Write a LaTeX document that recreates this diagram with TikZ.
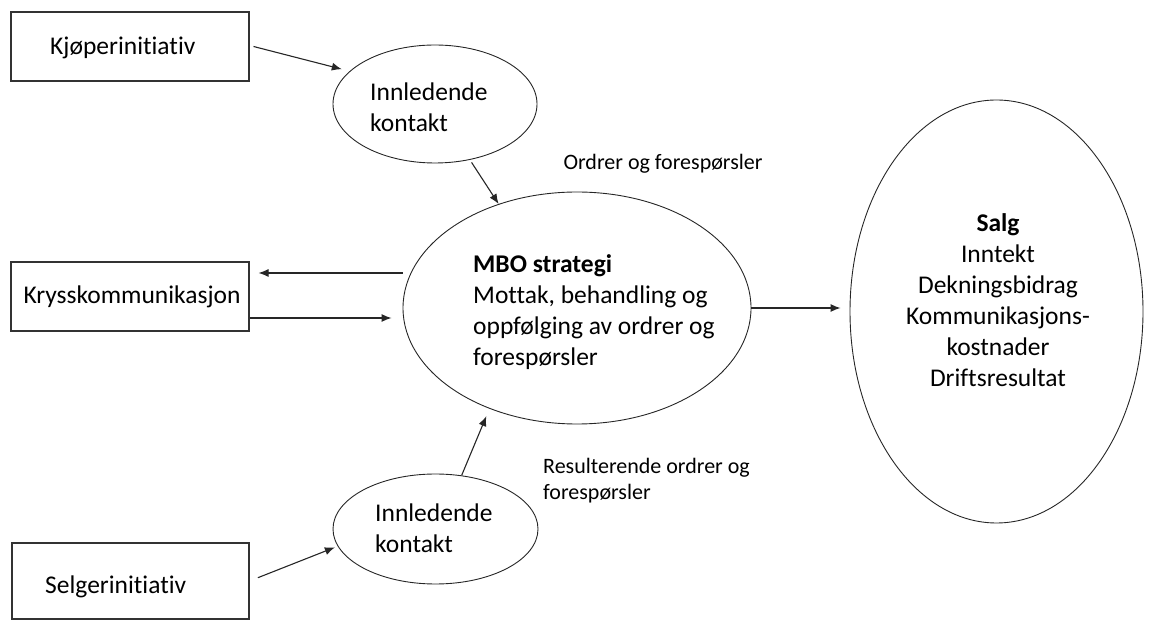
\documentclass[tikz,border=0pt]{standalone}
\usepackage{fontspec}
\setmainfont{Carlito}[Ligatures={NoCommon,NoContextual}]
\usetikzlibrary{shapes.geometric,arrows.meta}

\begin{document}
\begin{tikzpicture}[x=1pt,y=1pt,
  box/.style={draw=black!80, line width=1.1pt, rectangle, inner sep=0pt},
  oval/.style={draw=black!85, line width=0.9pt, ellipse, inner sep=0pt},
  txt/.style={inner sep=0pt, font=\fontsize{25.5}{31}\selectfont, align=left},
  lbl/.style={inner sep=0pt, font=\fontsize{22}{26}\selectfont, align=left},
  arr/.style={draw=black!85, line width=1.1pt, -{Latex[length=10pt,width=8pt]}}]

\useasboundingbox (0,0) rectangle (1167,621);

% left-hand boxes
\node[box, minimum width=238, minimum height=69] (k1box) at (130,574.5) {};
\node[txt, anchor=west] (k1) at (50,573) {Kjøperinitiativ};

\node[box, minimum width=238, minimum height=69] (kkbox) at (130,324.5) {};
\node[txt] (kk) at (132,324) {Krysskommunikasjon};

\node[box, minimum width=237, minimum height=76] (sbox) at (130.5,40) {};
\node[txt, anchor=west] (s) at (45,34) {Selgerinitiativ};

% first contact ellipses
\node[oval, minimum width=204, minimum height=118] (ik1) at (435,517) {};
\node[txt, anchor=west] (ik1t) at (370,513.5) {Innledende\\kontakt};

\node[oval, minimum width=205, minimum height=110] (ik2) at (435.5,92) {};
\node[txt, anchor=west] (ik2t) at (375,93) {Innledende\\kontakt};

% central process
\node[oval, minimum width=348, minimum height=232] (mbo) at (577,313) {};
\node[txt, anchor=west] (mbot) at (473,309)
  {\textbf{MBO strategi}\\Mottak, behandling og\\oppfølging av ordrer og\\forespørsler};

% result
\node[oval, minimum width=293, minimum height=423] (salg) at (996.5,309.5) {};
\node[txt, align=center] (salgt) at (998,321)
  {\textbf{Salg}\\Inntekt\\Dekningsbidrag\\Kommunikasjons-\\kostnader\\Driftsresultat};

% flow labels
\node[lbl] (l1) at (663,457) {Ordrer og forespørsler};
\node[lbl, anchor=west] (l2) at (543,140) {Resulterende ordrer og\\forespørsler};

% connectors
\draw[arr, shorten >=8pt] ([xshift=4]k1box.east) -- (ik1.159);
\draw[arr, shorten <=3pt] (ik1.-58) -- (mbo.127);
\draw[arr, shorten >=9pt] ([yshift=35]mbo.west) -- ([yshift=23.5]kkbox.east);
\draw[arr, shorten >=11pt] ([yshift=-21.5]kkbox.east) -- ([yshift=-10]mbo.west);
\draw[arr, shorten >=9pt] (mbo.east) -- (mbo.east -| salg.west);
\draw[arr, shorten <=9pt, shorten >=3pt] (sbox.east) -- (ik2.190);
\draw[arr, shorten >=8pt] (ik2.64) -- (mbo.229);
\end{tikzpicture}
\end{document}
